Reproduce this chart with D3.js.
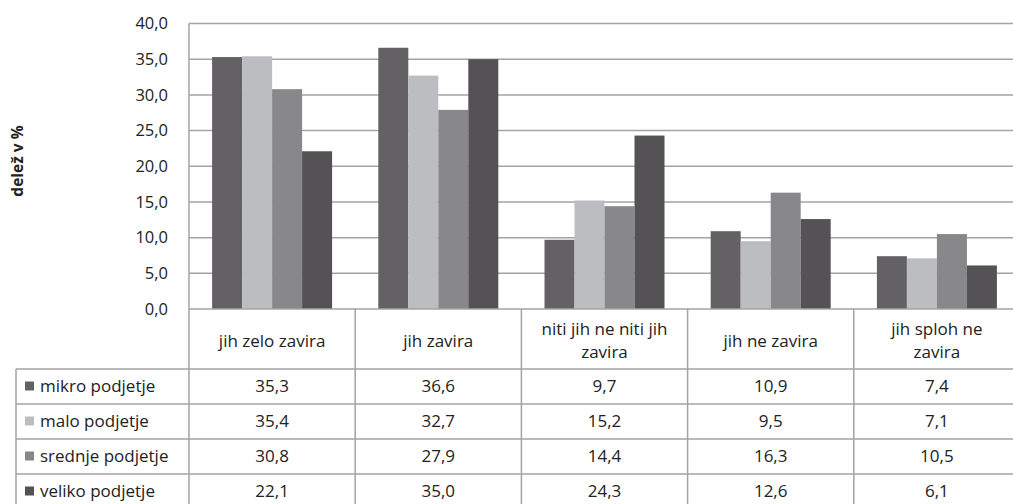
<!DOCTYPE html>
<html><head><meta charset="utf-8">
<script src="https://cdn.jsdelivr.net/npm/d3@7"></script>
<style>body{margin:0;background:#fff}svg{display:block}text{font-family:"Open Sans",sans-serif;fill:#222}</style>
</head><body><svg id="c" width="1013" height="504"></svg>
<script>
const categories = [["jih zelo zavira"],["jih zavira"],["niti jih ne niti jih","zavira"],["jih ne zavira"],["jih sploh ne","zavira"]];
const seriesNames = ["mikro podjetje","malo podjetje","srednje podjetje","veliko podjetje"];
const mikro = [35.3,36.6,9.7,10.9,7.4];
const malo = [35.4,32.7,15.2,9.5,7.1];
const srednje = [30.8,27.9,14.4,16.3,10.5];
const veliko = [22.1,35.0,24.3,12.6,6.1];
const yTicks = [0,5,10,15,20,25,30,35,40];
const axisTitle = "delež v %";

const series = [mikro, malo, srednje, veliko];
const colors = ["#636164","#bcbdc0","#88888a","#545255"];
const fmt = v => v.toFixed(1).replace(".", ",");

const svg = d3.select("#c");
const L = 189, R = 1020, T = 23.5, B = 309;
const x = d3.scaleBand().domain(d3.range(5)).range([L, R]).paddingInner(0).paddingOuter(0);
const inner = d3.scaleBand().domain(d3.range(4)).range([0, x.bandwidth()]).paddingOuter(0.77).paddingInner(0);
const y = d3.scaleLinear().domain([0, 40]).range([B, T]);
const grid = "#a3a3a3";
const fs = "17px";

svg.append("g").selectAll("line").data(yTicks.filter(d => d > 0)).join("line")
  .attr("x1", L).attr("x2", R).attr("y1", d => y(d)).attr("y2", d => y(d))
  .attr("stroke", grid).attr("stroke-width", 1.5);

svg.append("g").selectAll("text").data(yTicks).join("text")
  .attr("x", 168).attr("y", d => y(d)).attr("dy", "0.35em").attr("text-anchor", "end")
  .style("font-size", "16.5px").text(d => fmt(d));

svg.append("text").attr("transform", "translate(23,161) rotate(-90)").attr("text-anchor", "middle")
  .style("font-size", "15.5px").style("font-weight", "bold").text(axisTitle);

series.forEach((s, si) => {
  svg.append("g").selectAll("rect").data(s).join("rect")
    .attr("x", (d, i) => x(i) + inner(si)).attr("width", inner.bandwidth())
    .attr("y", d => y(d)).attr("height", d => B - y(d)).attr("fill", colors[si]);
});

const hdrBot = 369, rowH = 35, legL = 16;
const rowsY = d3.range(5).map(i => hdrBot + i * rowH);
const tb = svg.append("g").attr("stroke", grid).attr("stroke-width", 1.5);
tb.append("line").attr("x1", L).attr("x2", L).attr("y1", T).attr("y2", 510);
tb.append("line").attr("x1", L).attr("x2", R).attr("y1", B).attr("y2", B);
d3.range(1, 6).forEach(i => tb.append("line").attr("x1", x(0) + i * x.bandwidth()).attr("x2", x(0) + i * x.bandwidth()).attr("y1", B).attr("y2", 510));
rowsY.forEach(ry => tb.append("line").attr("x1", legL).attr("x2", R).attr("y1", ry).attr("y2", ry));
tb.append("line").attr("x1", legL).attr("x2", legL).attr("y1", hdrBot).attr("y2", 510);

categories.forEach((c, i) => {
  const cx = x(i) + x.bandwidth() / 2, cy = 341;
  c.forEach((line, li) => {
    svg.append("text").attr("x", cx).attr("y", cy + (li - (c.length - 1) / 2) * 23).attr("dy", "0.35em")
      .attr("text-anchor", "middle").style("font-size", fs).text(line);
  });
});

series.forEach((s, si) => {
  const cy = rowsY[si] + rowH / 2;
  svg.append("rect").attr("x", 25).attr("y", cy - 5).attr("width", 9).attr("height", 9).attr("fill", colors[si]);
  svg.append("text").attr("x", 40).attr("y", cy).attr("dy", "0.35em").style("font-size", fs).text(seriesNames[si]);
  svg.append("g").selectAll("text").data(s).join("text")
    .attr("x", (d, i) => x(i) + x.bandwidth() / 2).attr("y", cy).attr("dy", "0.35em")
    .attr("text-anchor", "middle").style("font-size", fs).text(d => fmt(d));
});
</script></body></html>
